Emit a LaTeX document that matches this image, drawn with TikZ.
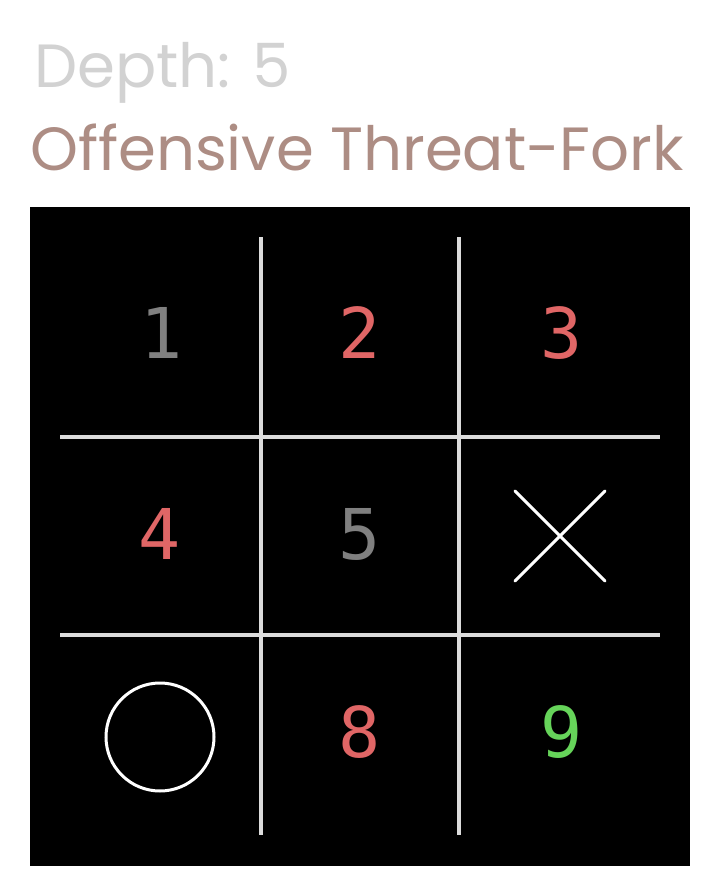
\documentclass[tikz,border=0pt]{standalone}
\usepackage{fontspec}
\setmainfont{Poppins}
\newfontfamily\digitfont{DejaVu Sans Mono}
\definecolor{depthgrey}{HTML}{D2D2D2}
\definecolor{titlebrown}{HTML}{AD8D84}
\definecolor{gridgrey}{HTML}{DCDCDC}
\definecolor{numgrey}{HTML}{808080}
\definecolor{numred}{HTML}{E06666}
\definecolor{numgreen}{HTML}{66D45A}
\tikzset{
  gridline/.style={draw=gridgrey, line width=4.5pt},
  cellnum/.style={inner sep=0pt, font=\digitfont\fontsize{70}{70}\selectfont},
  playmark/.style={draw=white, line width=3pt},
  titletext/.style={anchor=base west, inner sep=0pt, font=\fontsize{61}{61}\selectfont}
}
\begin{document}
\begin{tikzpicture}[x=1pt,y=-1pt]
\useasboundingbox (0,0) rectangle (721,896);
\fill[white] (0,0) rectangle (721,896);
\node[titletext, text=depthgrey] (depth) at (34,88) {Depth: 5};
\node[titletext, text=titlebrown] (title) at (30,171) {Offensive Threat-Fork};
\fill[black] (30,207) rectangle (690,866);
% grid
\draw[gridline] (261,237) -- (261,835);
\draw[gridline] (459,237) -- (459,835);
\draw[gridline] (60,437) -- (660,437);
\draw[gridline] (60,635) -- (660,635);
% cells
\node[cellnum, text=numgrey] (c1) at (162,333) {1};
\node[cellnum, text=numred] (c2) at (360,333) {2};
\node[cellnum, text=numred] (c3) at (562,333) {3};
\node[cellnum, text=numred] (c4) at (160,534) {4};
\node[cellnum, text=numgrey] (c5) at (360,534) {5};
\coordinate (c6) at (560,536);
\draw[playmark, line cap=round] ([shift={(-45,-45)}]c6) -- ([shift={(45,45)}]c6);
\draw[playmark, line cap=round] ([shift={(45,-45)}]c6) -- ([shift={(-45,45)}]c6);
\coordinate (c7) at (160,737);
\draw[playmark] (c7) circle[radius=54];
\node[cellnum, text=numred] (c8) at (360,732) {8};
\node[cellnum, text=numgreen] (c9) at (562,732) {9};
\end{tikzpicture}
\end{document}
